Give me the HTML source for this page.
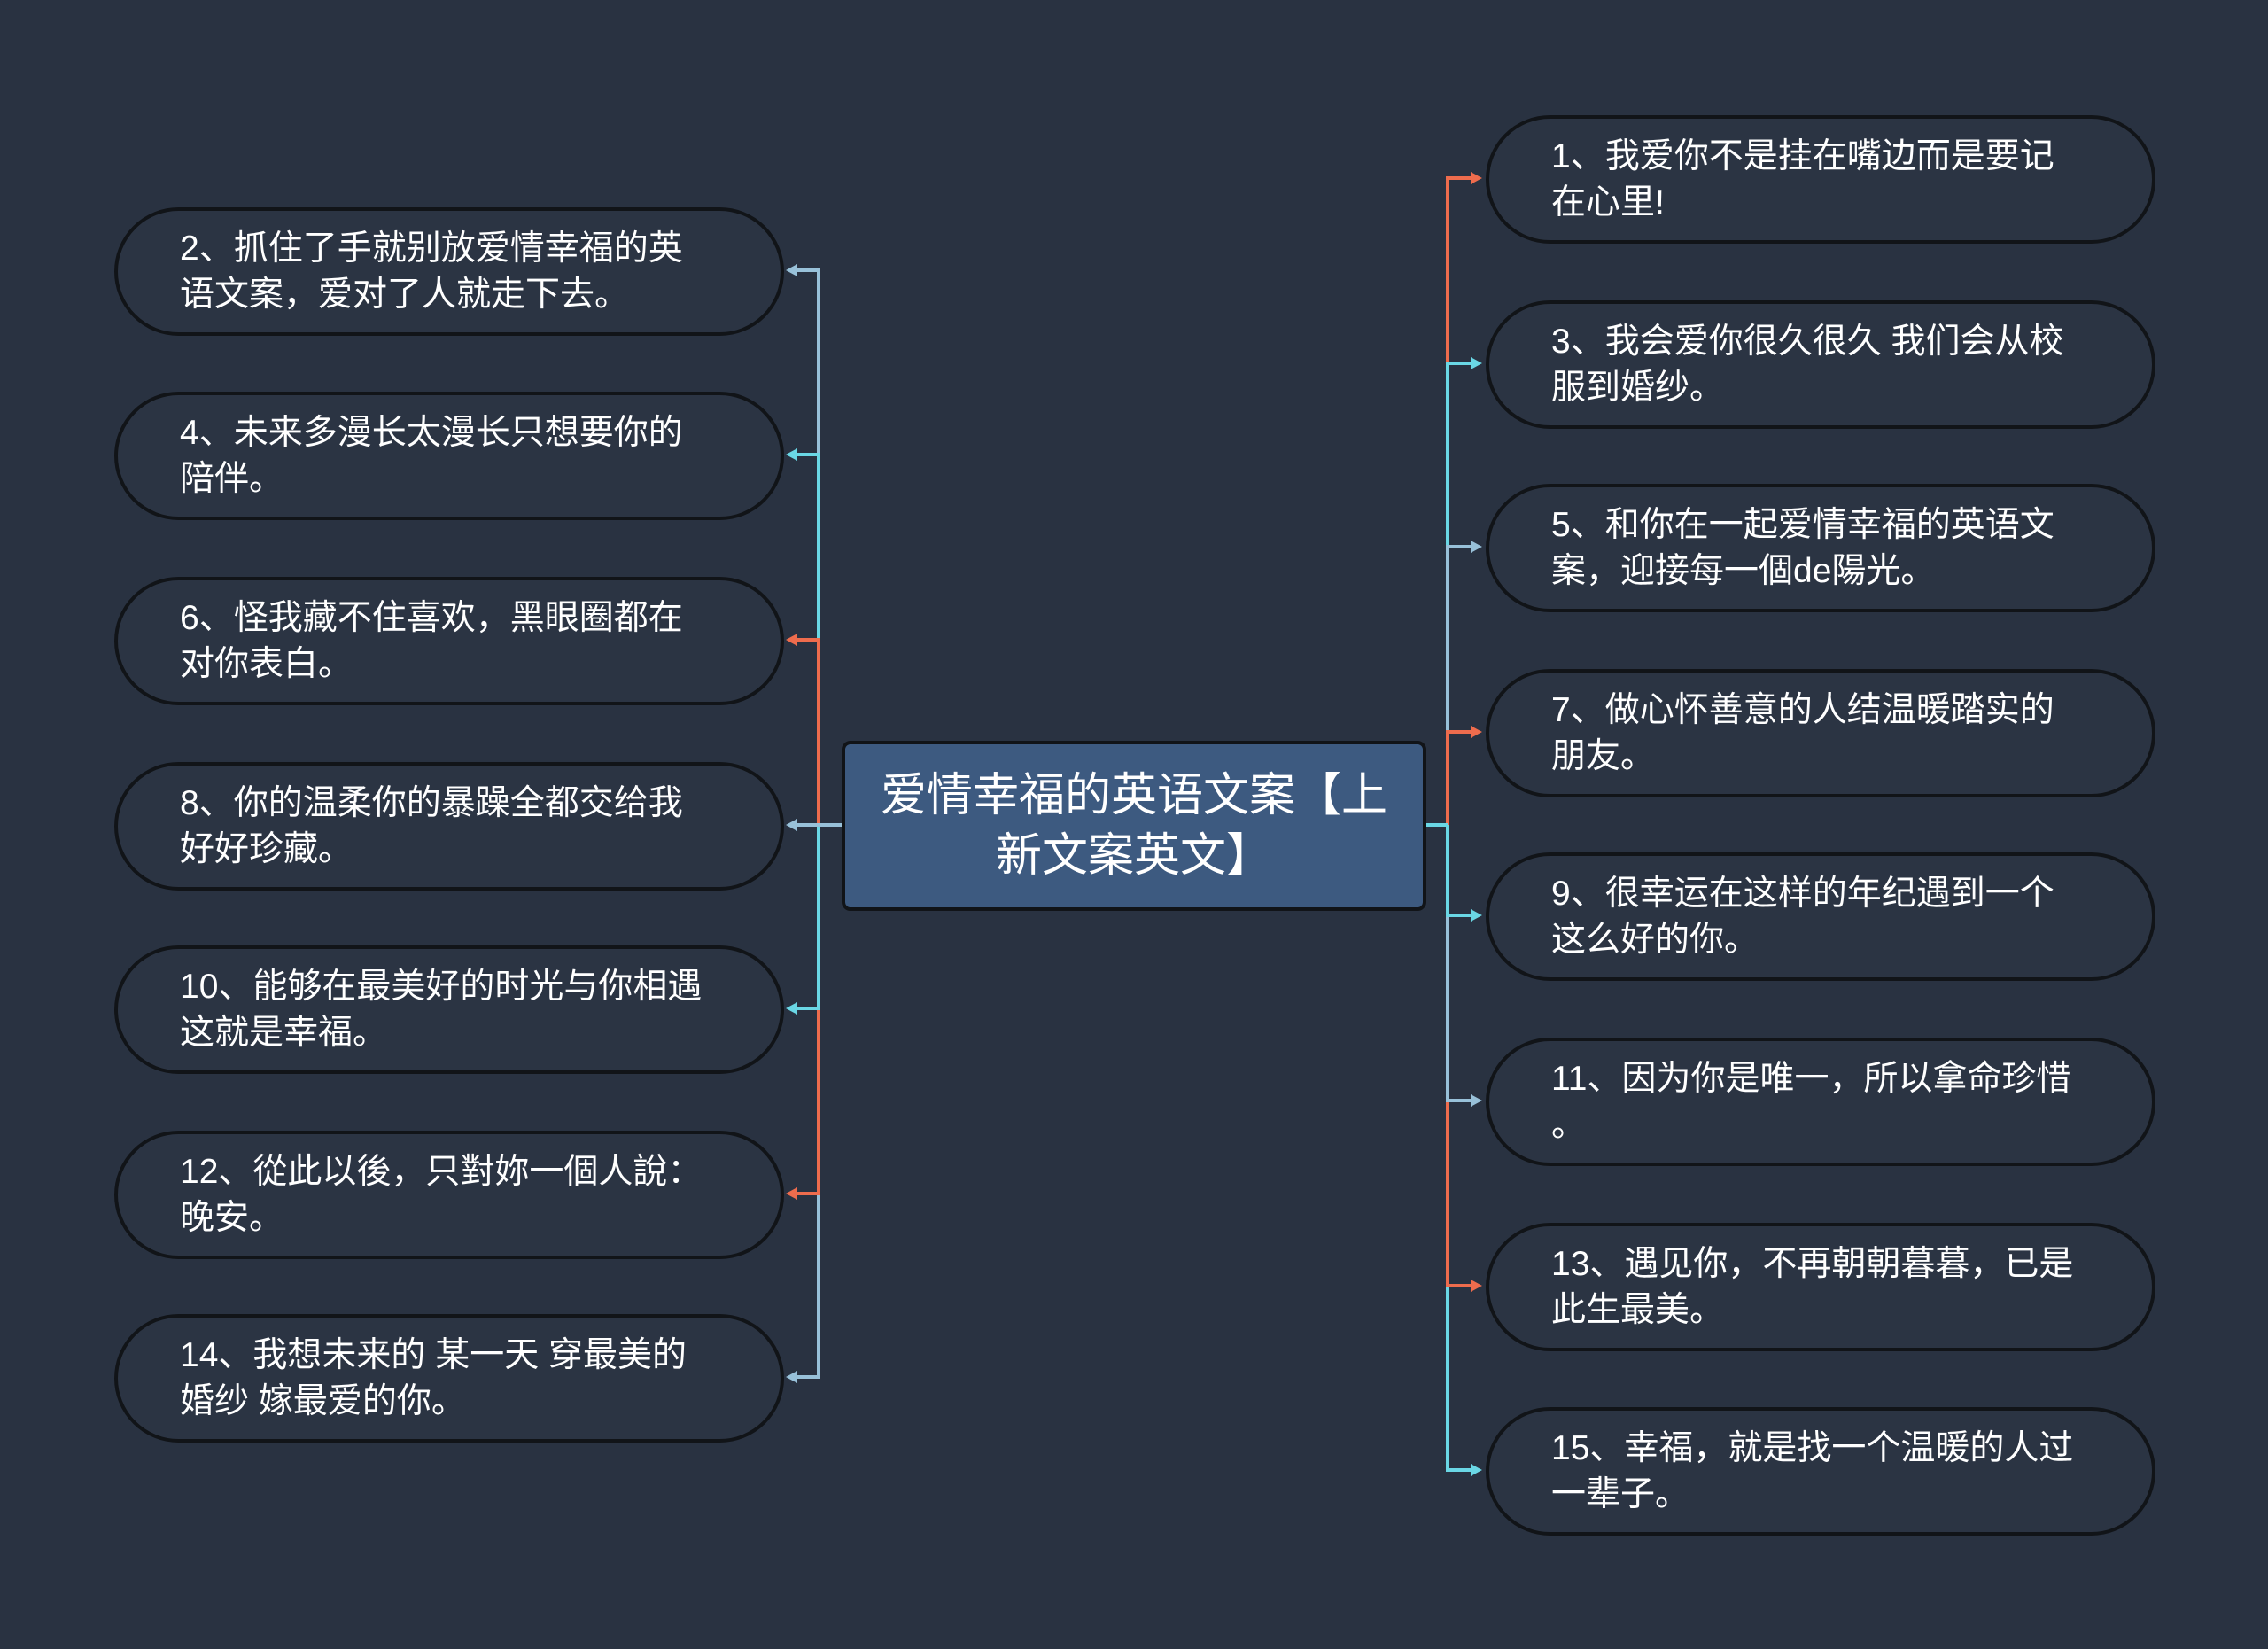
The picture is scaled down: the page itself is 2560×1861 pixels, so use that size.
<!DOCTYPE html>
<html><head><meta charset="utf-8"><style>
html,body{margin:0;padding:0}
body{width:2560px;height:1861px;background:#293241;position:relative;overflow:hidden;font-family:"Liberation Sans","Noto Sans CJK SC",sans-serif}
.n{position:absolute;width:748px;height:137px;border:4px solid #111418;border-radius:75px;background:#2b3443;box-sizing:content-box;display:flex;align-items:center;color:#fff;font-size:39px;line-height:52px;white-space:nowrap}
.n div{padding-left:70px}
.c{position:absolute;left:950px;top:836px;width:652px;height:184px;background:#3d5a80;border:4px solid #111418;border-radius:10px;display:flex;align-items:center;justify-content:center;text-align:center;color:#fff;font-size:52px;line-height:68px}
svg{position:absolute;left:0;top:0}
</style></head><body>
<svg width="2560" height="1861">
<g stroke-width="4" fill="none">
<path d="M924 931 V1554 H897" stroke="#98c1d9"/>
<path d="M924 931 V1347 H897" stroke="#ee6c4d"/>
<path d="M924 931 V1138 H897" stroke="#6ad7e5"/>
<path d="M924 931 V305 H897" stroke="#98c1d9"/>
<path d="M924 931 V513 H897" stroke="#6ad7e5"/>
<path d="M924 931 V722 H897" stroke="#ee6c4d"/>
<path d="M950 931 H897" stroke="#98c1d9"/>
<path d="M1634 931 V1659 H1662" stroke="#6ad7e5"/>
<path d="M1634 931 V1451 H1662" stroke="#ee6c4d"/>
<path d="M1634 931 V1242 H1662" stroke="#98c1d9"/>
<path d="M1634 931 V1033 H1662" stroke="#6ad7e5"/>
<path d="M1634 931 V201 H1662" stroke="#ee6c4d"/>
<path d="M1634 931 V410 H1662" stroke="#6ad7e5"/>
<path d="M1634 931 V617 H1662" stroke="#98c1d9"/>
<path d="M1634 931 V826 H1662" stroke="#ee6c4d"/>
<path d="M1606 931 H1634" stroke="#6ad7e5"/>
</g>
<g>
<path d="M887 305l13 -7v14z" fill="#98c1d9"/>
<path d="M887 513l13 -7v14z" fill="#6ad7e5"/>
<path d="M887 722l13 -7v14z" fill="#ee6c4d"/>
<path d="M887 931l13 -7v14z" fill="#98c1d9"/>
<path d="M887 1138l13 -7v14z" fill="#6ad7e5"/>
<path d="M887 1347l13 -7v14z" fill="#ee6c4d"/>
<path d="M887 1554l13 -7v14z" fill="#98c1d9"/>
<path d="M1673 201l-13 -7v14z" fill="#ee6c4d"/>
<path d="M1673 410l-13 -7v14z" fill="#6ad7e5"/>
<path d="M1673 617l-13 -7v14z" fill="#98c1d9"/>
<path d="M1673 826l-13 -7v14z" fill="#ee6c4d"/>
<path d="M1673 1033l-13 -7v14z" fill="#6ad7e5"/>
<path d="M1673 1242l-13 -7v14z" fill="#98c1d9"/>
<path d="M1673 1451l-13 -7v14z" fill="#ee6c4d"/>
<path d="M1673 1659l-13 -7v14z" fill="#6ad7e5"/>
</g>
</svg>
<div class="c">爱情幸福的英语文案【上<br>新文案英文】</div>

<div class="n" style="left:129px;top:234px"><div>2、抓住了手就别放爱情幸福的英<br>语文案，爱对了人就走下去。</div></div>
<div class="n" style="left:129px;top:442px"><div>4、未来多漫长太漫长只想要你的<br>陪伴。</div></div>
<div class="n" style="left:129px;top:651px"><div>6、怪我藏不住喜欢，黑眼圈都在<br>对你表白。</div></div>
<div class="n" style="left:129px;top:860px"><div>8、你的温柔你的暴躁全都交给我<br>好好珍藏。</div></div>
<div class="n" style="left:129px;top:1067px"><div>10、能够在最美好的时光与你相遇<br>这就是幸福。</div></div>
<div class="n" style="left:129px;top:1276px"><div>12、從此以後，只對妳一個人說：<br>晚安。</div></div>
<div class="n" style="left:129px;top:1483px"><div>14、我想未来的 某一天 穿最美的<br>婚纱 嫁最爱的你。</div></div>

<div class="n" style="left:1677px;top:130px"><div>1、我爱你不是挂在嘴边而是要记<br>在心里!</div></div>
<div class="n" style="left:1677px;top:339px"><div>3、我会爱你很久很久 我们会从校<br>服到婚纱。</div></div>
<div class="n" style="left:1677px;top:546px"><div>5、和你在一起爱情幸福的英语文<br>案，迎接每一個de陽光。</div></div>
<div class="n" style="left:1677px;top:755px"><div>7、做心怀善意的人结温暖踏实的<br>朋友。</div></div>
<div class="n" style="left:1677px;top:962px"><div>9、很幸运在这样的年纪遇到一个<br>这么好的你。</div></div>
<div class="n" style="left:1677px;top:1171px"><div>11、因为你是唯一，所以拿命珍惜<br>。</div></div>
<div class="n" style="left:1677px;top:1380px"><div>13、遇见你，不再朝朝暮暮，已是<br>此生最美。</div></div>
<div class="n" style="left:1677px;top:1588px"><div>15、幸福，就是找一个温暖的人过<br>一辈子。</div></div>
</body></html>
